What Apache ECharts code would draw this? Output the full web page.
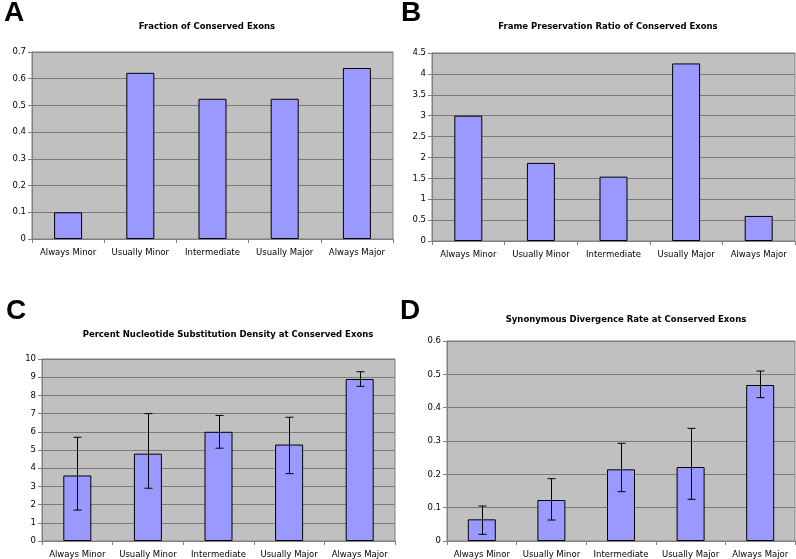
<!DOCTYPE html>
<html><head><meta charset="utf-8">
<script src="https://cdn.jsdelivr.net/npm/echarts@6/dist/echarts.min.js"></script>
<style>html,body{margin:0;padding:0;background:#fff}#c{width:796px;height:559px}</style>
</head><body><div id="c"></div>
<script>
const categories = ['Always Minor','Usually Minor','Intermediate','Usually Major','Always Major'];
const fractionConserved = [0.1, 0.622, 0.525, 0.525, 0.64];
const framePreservation = [3.0, 1.87, 1.54, 4.25, 0.6];
const substitutionDensity = [3.6, 4.8, 6.0, 5.3, 8.9];
const substitutionLow = [1.7, 2.9, 5.1, 3.7, 8.5];
const substitutionHigh = [5.7, 7.0, 6.9, 6.8, 9.3];
const synonymousRate = [0.065, 0.123, 0.215, 0.222, 0.468];
const synonymousLow = [0.02, 0.063, 0.148, 0.125, 0.43];
const synonymousHigh = [0.105, 0.187, 0.293, 0.338, 0.51];
const panelTitles = ['Fraction of Conserved Exons','Frame Preservation Ratio of Conserved Exons','Percent Nucleotide Substitution Density at Conserved Exons','Synonymous Divergence Rate at Conserved Exons'];
const panelLetters = ['A','B','C','D'];
const yMax = [0.7, 4.5, 10, 0.6];
const yInterval = [0.1, 0.5, 1, 0.1];

const FONT = 'DejaVu Sans';
const grids = [
  {left:32, top:52, width:361, height:187},
  {left:432, top:53, width:363, height:188},
  {left:42, top:359, width:353, height:183},
  {left:447, top:341, width:348, height:201}
];
const titlePos = [[202,17],[603,17],[223,325],[621,310]];
const letterPos = [[-1,-6],[396,-6],[1,292],[395,292]];

const chart = echarts.init(document.getElementById('c'), null, {renderer:'canvas'});
const xAxis = [], yAxis = [], series = [], title = [];
grids.forEach((g,i)=>{
  Object.assign(g,{show:true, backgroundColor:'#c0c0c0', borderColor:'#808080', borderWidth:1, containLabel:false});
  xAxis.push({type:'category', gridIndex:i, data:categories,
    axisLine:{lineStyle:{color:'#808080'}},
    axisTick:{show:true, length:4, lineStyle:{color:'#808080'}},
    axisLabel:{color:'#000', fontFamily:FONT, fontSize:8.5, margin:9, interval:0}});
  yAxis.push({type:'value', gridIndex:i, min:0, max:yMax[i], interval:yInterval[i],
    axisLine:{show:true, lineStyle:{color:'#808080'}},
    axisTick:{show:true, length:4, lineStyle:{color:'#808080'}},
    splitLine:{show:true, lineStyle:{color:'#7a7a7a', width:1}},
    axisLabel:{color:'#000', fontFamily:FONT, fontSize:8.5, margin:6}});
  title.push({text:panelTitles[i], left:titlePos[i][0], top:titlePos[i][1], textAlign:'center',
    textStyle:{fontFamily:FONT, fontSize:8.5, fontWeight:'bold', color:'#000'}});
  title.push({text:panelLetters[i], left:letterPos[i][0], top:letterPos[i][1],
    textStyle:{fontFamily:'Liberation Sans', fontSize:28, fontWeight:'bold', color:'#000'}});
});
const values = [fractionConserved, framePreservation, substitutionDensity, synonymousRate];
values.forEach((v,i)=>{
  series.push({type:'bar', xAxisIndex:i, yAxisIndex:i, data:v, barWidth:28,
    itemStyle:{color:'#9999ff', borderColor:'#000', borderWidth:1}, animation:false, z:2});
});
function errSeries(i, lo, hi){
  return {type:'custom', xAxisIndex:i, yAxisIndex:i, z:5, animation:false,
    data: lo.map((l,k)=>[k,l,hi[k]]),
    renderItem:(params, api)=>{
      const x = api.coord([api.value(0), api.value(1)]);
      const y2 = api.coord([api.value(0), api.value(2)]);
      const cx = Math.round(x[0]) + 0.5;
      const st = {stroke:'#000', lineWidth:1};
      return {type:'group', children:[
        {type:'line', shape:{x1:cx, y1:x[1], x2:cx, y2:y2[1]}, style:st},
        {type:'line', shape:{x1:cx-4, y1:x[1], x2:cx+4, y2:x[1]}, style:st},
        {type:'line', shape:{x1:cx-4, y1:y2[1], x2:cx+4, y2:y2[1]}, style:st}
      ]};
    }};
}
series.push(errSeries(2, substitutionLow, substitutionHigh));
series.push(errSeries(3, synonymousLow, synonymousHigh));

chart.setOption({animation:false, backgroundColor:'#fff', title, grid:grids, xAxis, yAxis, series});
</script></body></html>
